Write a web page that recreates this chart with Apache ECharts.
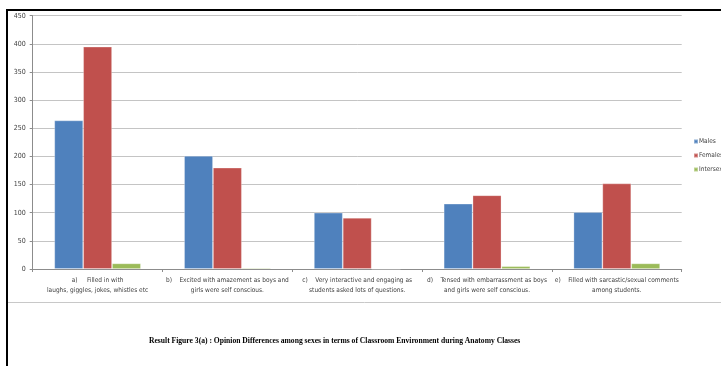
<!DOCTYPE html>
<html>
<head>
<meta charset="utf-8">
<script src="https://cdn.jsdelivr.net/npm/echarts@6/dist/echarts.min.js"></script>
<style>
  html, body { margin: 0; padding: 0; background: #ffffff; }
  #chart { width: 721px; height: 366px; }
</style>
</head>
<body>
<div id="chart"></div>
<script>
// Survey responses on the classroom environment, grouped by sex
const categories = [
  'a)     Filled in with\nlaughs, giggles, jokes, whistles etc',
  'b)    Excited with amazement as boys and\ngirls were self conscious.',
  'c)    Very interactive and engaging as\nstudents asked lots of questions.',
  'd)    Tensed with embarrassment as boys\nand girls were self conscious.',
  'e)    Filled with sarcastic/sexual comments\namong students.'
];
const males    = [264, 201, 100, 116, 101];
const females  = [395, 180, 91, 131, 152];
const intersex = [10, 2, 0, 5, 10];
const yTicks = { min: 0, max: 450, interval: 50 };

const labelFont = "'Liberation Sans Narrow', 'DejaVu Sans Condensed', 'Liberation Sans', sans-serif";

const chart = echarts.init(document.getElementById('chart'), null, { renderer: 'canvas' });

function barSeries(name, data, color) {
  return {
    name: name,
    type: 'bar',
    data: data,
    barGap: '0%',
    barCategoryGap: '33.3%',
    itemStyle: { color: color, borderColor: 'rgba(255,255,255,0.35)', borderWidth: 0.8 },
    emphasis: { disabled: true }
  };
}

chart.setOption({
  animation: false,
  backgroundColor: '#ffffff',
  grid: { left: 32.7, right: 39.3, top: 15.7, bottom: 97, containLabel: false },
  legend: {
    orient: 'vertical',
    left: 693,
    top: 138,
    padding: 0,
    itemWidth: 4,
    itemHeight: 4,
    itemGap: 7,
    icon: 'rect',
    textStyle: { fontSize: 6.5, color: '#404040', fontFamily: labelFont, padding: [0, 0, 0, -4] },
    data: ['Males', 'Females', 'Intersex']
  },
  xAxis: {
    type: 'category',
    data: categories,
    axisLine: { lineStyle: { color: '#8c8c8c', width: 1 } },
    axisTick: { show: true, alignWithLabel: false, length: 3, lineStyle: { color: '#8c8c8c' } },
    axisLabel: {
      interval: 0,
      margin: 7,
      fontSize: 6.5,
      lineHeight: 9.5,
      color: '#404040',
      fontFamily: labelFont,
      align: 'center'
    }
  },
  yAxis: {
    type: 'value',
    min: yTicks.min,
    max: yTicks.max,
    interval: yTicks.interval,
    axisLine: { show: true, lineStyle: { color: '#8c8c8c', width: 1 } },
    axisTick: { show: true, length: 3, lineStyle: { color: '#8c8c8c' } },
    axisLabel: { fontSize: 7, color: '#404040', fontFamily: labelFont, margin: 7 },
    splitLine: { lineStyle: { color: '#c4c4c4', width: 1 } }
  },
  series: [
    barSeries('Males', males, '#4f81bd'),
    barSeries('Females', females, '#c0504d'),
    barSeries('Intersex', intersex, '#9bbb59')
  ],
  graphic: [
    // page frame: heavy top and left rules
    { type: 'line', shape: { x1: 6, y1: 10, x2: 721, y2: 10 }, style: { stroke: '#000', lineWidth: 2 } },
    { type: 'line', shape: { x1: 7, y1: 9, x2: 7, y2: 366 }, style: { stroke: '#000', lineWidth: 2 } },
    // bottom edge of the chart box
    { type: 'line', shape: { x1: 8, y1: 302.5, x2: 721, y2: 302.5 }, style: { stroke: '#c8c8c8', lineWidth: 1 } },
    // caption
    {
      type: 'text',
      left: 149,
      top: 337,
      style: {
        text: 'Result Figure 3(a) : Opinion Differences among sexes in terms of Classroom Environment during Anatomy Classes',
        font: "bold 7.6px 'Liberation Serif', 'Times New Roman', serif",
        fill: '#000'
      }
    }
  ]
});
</script>
</body>
</html>
